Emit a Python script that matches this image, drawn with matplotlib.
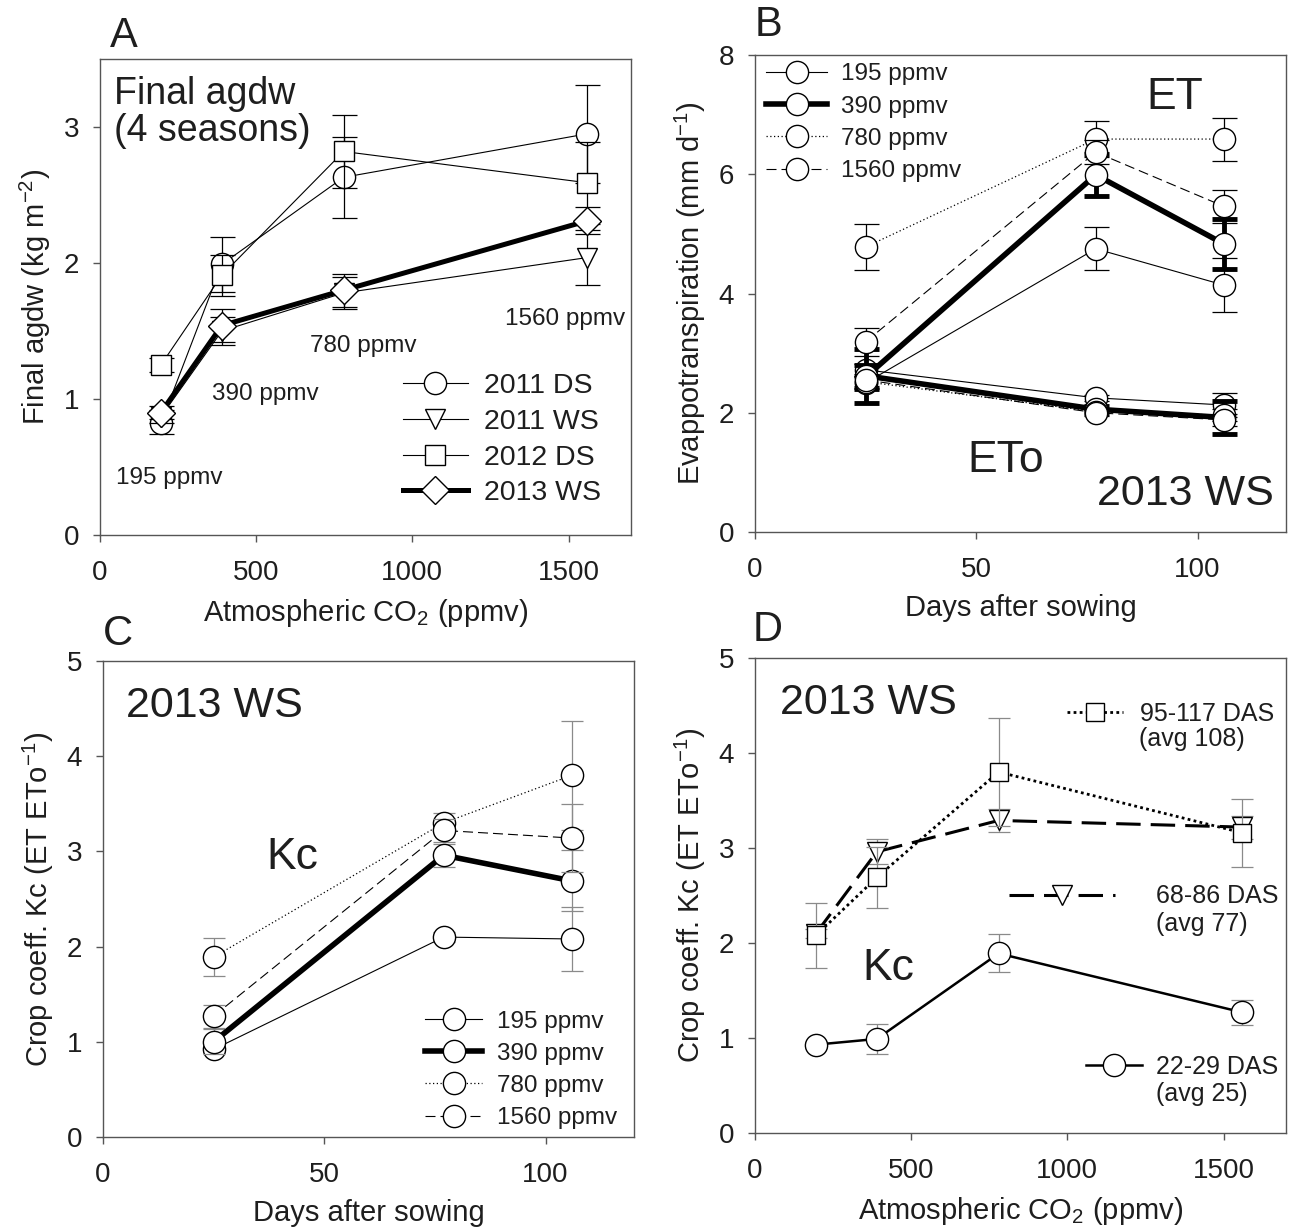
import matplotlib
matplotlib.use("Agg")
import matplotlib.pyplot as plt
from matplotlib.legend import Legend

plt.rcParams['font.family'] = ['Liberation Sans', 'DejaVu Sans']
plt.rcParams['mathtext.fontset'] = 'custom'
plt.rcParams['mathtext.rm'] = 'Liberation Sans'
plt.rcParams['mathtext.it'] = 'Liberation Sans:italic'
plt.rcParams['mathtext.bf'] = 'Liberation Sans:bold'

TXT = '#1e1e1e'
SPINE = '#555555'

# ---------------- data ----------------
co2 = [195, 390, 780, 1560]
das = [25, 77, 106]

# Panel A: final above-ground dry weight (kg m-2)
agdw_2011ds = [0.82, 1.99, 2.63, 2.95]
agdw_2011ds_err = [0.08, 0.20, 0.30, 0.36]
agdw_2011ws = [0.87, 1.50, 1.78, 2.04]
agdw_2011ws_err = [0.05, 0.10, 0.12, 0.20]
agdw_2012ds = [1.25, 1.91, 2.82, 2.59]
agdw_2012ds_err = [0.05, 0.15, 0.27, 0.30]
agdw_2013ws = [0.90, 1.54, 1.80, 2.31]
agdw_2013ws_err = [0.05, 0.12, 0.12, 0.10]

# Panel B: evapotranspiration (mm d-1)
et_195 = [2.50, 4.75, 4.14]
et_195_err = [0.10, 0.36, 0.45]
et_390 = [2.60, 5.99, 4.83]
et_390_err = [0.20, 0.35, 0.42]
et_780 = [4.78, 6.59, 6.59]
et_780_err = [0.38, 0.30, 0.36]
et_1560 = [3.19, 6.37, 5.46]
et_1560_err = [0.23, 0.20, 0.27]

eto_195 = [2.72, 2.25, 2.13]
eto_195_err = [0.10, 0.05, 0.20]
eto_390 = [2.62, 2.06, 1.92]
eto_390_err = [0.45, 0.05, 0.27]
eto_780 = [2.52, 2.02, 1.96]
eto_780_err = [0.10, 0.05, 0.10]
eto_1560 = [2.55, 2.00, 1.88]
eto_1560_err = [0.10, 0.05, 0.10]

# Panel C: crop coefficient by day
kc_195 = [0.92, 2.10, 2.08]
kc_195_err = [0.03, 0.05, 0.34]
kc_390 = [1.00, 2.96, 2.69]
kc_390_err = [0.13, 0.12, 0.32]
kc_780 = [1.89, 3.30, 3.80]
kc_780_err = [0.20, 0.10, 0.57]
kc_1560 = [1.27, 3.22, 3.14]
kc_1560_err = [0.12, 0.12, 0.36]

# Panel D: crop coefficient by CO2
kc_das25 = [0.93, 0.99, 1.89, 1.27]
kc_das25_err = [0.03, 0.16, 0.20, 0.13]
kc_das77 = [2.10, 2.96, 3.29, 3.22]
kc_das77_err = [0.05, 0.13, 0.12, 0.12]
kc_das108 = [2.08, 2.69, 3.80, 3.16]
kc_das108_err = [0.34, 0.32, 0.57, 0.36]

conc_labels = ['195 ppmv', '390 ppmv', '780 ppmv', '1560 ppmv']
season_labels = ['2011 DS', '2011 WS', '2012 DS', '2013 WS']

# ---------------- figure ----------------
W, H = 1290, 1230
fig = plt.figure(figsize=(W / 100, H / 100), dpi=100)


def axes_px(l, t, r, b):
    return fig.add_axes([l / W, 1 - b / H, (r - l) / W, (b - t) / H])


axA = axes_px(100, 59, 631, 535)
axB = axes_px(755, 55, 1286, 532)
axC = axes_px(103, 661, 634, 1137)
axD = axes_px(755, 658, 1286, 1133)

for ax in (axA, axB, axC, axD):
    for s in ax.spines.values():
        s.set_color(SPINE)
        s.set_linewidth(1.0)
    ax.tick_params(direction='out', length=5, width=1, color=SPINE,
                   labelcolor=TXT, labelsize=20, pad=10)
    ax.tick_params(axis='x', pad=13)


def series(ax, x, y, e, ls, lw, marker, ms, ecol='k', elw=0.9, cap=9, z=3, label=None):
    ax.errorbar(x, y, yerr=e, fmt='none', ecolor=ecol, elinewidth=elw,
                capsize=cap, capthick=elw, zorder=z)
    ln, = ax.plot(x, y, linestyle=ls, lw=lw, color='k', marker=marker, ms=ms,
                  mfc='white', mec='k', mew=1.0, zorder=z + 0.5, label=label)
    return ln

# ---------------- Panel A ----------------
hA = []
hA.append(series(axA, co2, agdw_2011ds, agdw_2011ds_err, '-', 0.8, 'o', 16, label=season_labels[0], z=3))
hA.append(series(axA, co2, agdw_2011ws, agdw_2011ws_err, '-', 0.8, 'v', 15, label=season_labels[1], z=4))
hA.append(series(axA, co2, agdw_2012ds, agdw_2012ds_err, '-', 0.8, 's', 14, label=season_labels[2], z=5))
hA.append(series(axA, co2, agdw_2013ws, agdw_2013ws_err, '-', 3.6, 'D', 14, label=season_labels[3], z=6))
axA.set_xlim(0, 1700)
axA.set_ylim(0, 3.5)
axA.set_xticks([0, 500, 1000, 1500])
axA.set_yticks([0, 1, 2, 3])
axA.set_xlabel('Atmospheric CO$_2$ (ppmv)', fontsize=21, color=TXT, labelpad=8)
axA.set_ylabel('Final agdw (kg m$^{-2}$)', fontsize=21, color=TXT, labelpad=8)
axA.text(46, 3.105, 'Final agdw\n(4 seasons)', fontsize=27, color=TXT,
         ha='left', va='center', linespacing=1.05)
for xx, yy, t in [(52, 0.42, '195 ppmv'), (359, 1.04, '390 ppmv'),
                  (672, 1.39, '780 ppmv'), (1298, 1.59, '1560 ppmv')]:
    axA.text(xx, yy, t, fontsize=17.5, color=TXT, ha='left', va='center')
axA.legend(handles=hA, loc='center left', bbox_to_anchor=(0.57, 0.2),
           frameon=False, borderpad=0, borderaxespad=0, fontsize=20.5,
           handlelength=2.3, handletextpad=0.55, labelspacing=0.34,
           labelcolor=TXT)

# ---------------- Panel B ----------------
hB = []
hB.append(series(axB, das, et_195, et_195_err, '-', 0.8, 'o', 16, label=conc_labels[0], z=3))
hB.append(series(axB, das, et_390, et_390_err, '-', 4.0, 'o', 16, elw=3.5, label=conc_labels[1], z=4))
hB.append(series(axB, das, et_780, et_780_err, (0, (1, 2)), 0.9, 'o', 16, label=conc_labels[2], z=5))
hB.append(series(axB, das, et_1560, et_1560_err, (0, (9, 4.5)), 0.8, 'o', 16, label=conc_labels[3], z=6))
series(axB, das, eto_195, eto_195_err, '-', 0.8, 'o', 16, z=3)
series(axB, das, eto_390, eto_390_err, '-', 4.0, 'o', 16, elw=3.5, z=4)
series(axB, das, eto_780, eto_780_err, (0, (1, 2)), 0.9, 'o', 16, z=5)
series(axB, das, eto_1560, eto_1560_err, (0, (9, 4.5)), 0.8, 'o', 16, z=6)
axB.set_xlim(0, 120)
axB.set_ylim(0, 8)
axB.set_xticks([0, 50, 100])
axB.set_yticks([0, 2, 4, 6, 8])
axB.set_xlabel('Days after sowing', fontsize=21, color=TXT, labelpad=8)
axB.set_ylabel('Evappotranspiration (mm d$^{-1}$)', fontsize=21, color=TXT, labelpad=8)
axB.text(88.4, 7.28, 'ET', fontsize=32, color=TXT, ha='left', va='center')
axB.text(48.1, 1.2, 'ETo', fontsize=32, color=TXT, ha='left', va='center')
axB.text(117.2, 0.63, '2013 WS', fontsize=31, color=TXT, ha='right', va='center')
axB.legend(handles=hB, loc='center left', bbox_to_anchor=(0.021, 0.858),
           frameon=False, borderpad=0, borderaxespad=0, fontsize=17.5,
           handlelength=2.5, handletextpad=0.6, labelspacing=0.42,
           labelcolor=TXT)

# ---------------- Panel C ----------------
GREY = '#8a8a8a'
hC = []
hC.append(series(axC, das, kc_195, kc_195_err, '-', 0.8, 'o', 16, ecol=GREY, elw=0.9, cap=8, label=conc_labels[0], z=3))
hC.append(series(axC, das, kc_390, kc_390_err, '-', 4.0, 'o', 16, ecol=GREY, elw=0.9, cap=8, label=conc_labels[1], z=4))
hC.append(series(axC, das, kc_780, kc_780_err, (0, (1, 2)), 0.9, 'o', 16, ecol=GREY, elw=0.9, cap=8, label=conc_labels[2], z=5))
hC.append(series(axC, das, kc_1560, kc_1560_err, (0, (9, 4.5)), 0.8, 'o', 16, ecol=GREY, elw=0.9, cap=8, label=conc_labels[3], z=6))
axC.set_xlim(0, 120)
axC.set_ylim(0, 5)
axC.set_xticks([0, 50, 100])
axC.set_yticks([0, 1, 2, 3, 4, 5])
axC.set_xlabel('Days after sowing', fontsize=21, color=TXT, labelpad=8)
axC.set_ylabel('Crop coeff. Kc (ET ETo$^{-1}$)', fontsize=21, color=TXT, labelpad=8)
axC.text(5.1, 4.53, '2013 WS', fontsize=31, color=TXT, ha='left', va='center')
axC.text(36.9, 2.94, 'Kc', fontsize=32, color=TXT, ha='left', va='center')
axC.legend(handles=hC, loc='center left', bbox_to_anchor=(0.607, 0.141),
           frameon=False, borderpad=0, borderaxespad=0, fontsize=17.5,
           handlelength=2.35, handletextpad=0.6, labelspacing=0.42,
           labelcolor=TXT)

# ---------------- Panel D ----------------
l77 = series(axD, co2, kc_das77, kc_das77_err, (0, (8, 3.3)), 2.2, 'v', 15, ecol=GREY, elw=0.9, cap=8, z=3)
l108 = series(axD, co2, kc_das108, kc_das108_err, (0, (1, 1.2)), 2.0, 's', 13.5, ecol=GREY, elw=0.9, cap=8, z=4)
l25 = series(axD, co2, kc_das25, kc_das25_err, '-', 1.8, 'o', 16, ecol=GREY, elw=0.9, cap=8, z=5)
axD.set_xlim(0, 1700)
axD.set_ylim(0, 5)
axD.set_xticks([0, 500, 1000, 1500])
axD.set_yticks([0, 1, 2, 3, 4, 5])
axD.set_xlabel('Atmospheric CO$_2$ (ppmv)', fontsize=21, color=TXT, labelpad=8)
axD.set_ylabel('Crop coeff. Kc (ET ETo$^{-1}$)', fontsize=21, color=TXT, labelpad=8)
axD.text(79, 4.53, '2013 WS', fontsize=31, color=TXT, ha='left', va='center')
axD.text(344, 1.73, 'Kc', fontsize=32, color=TXT, ha='left', va='center')

for ln, lab, sub, anchor, hl, htp, sub_xy in [
        (l108, '95-117 DAS', '(avg 108)', (0.588, 0.882), 2.24, 0.66, (0.724, 0.829)),
        (l77, '68-86 DAS', '(avg 77)', (0.479, 0.498), 4.23, 1.64, (0.755, 0.441)),
        (l25, '22-29 DAS', '(avg 25)', (0.623, 0.139), 2.23, 0.57, (0.755, 0.082))]:
    lg = Legend(axD, [ln], [lab], loc='center left', bbox_to_anchor=anchor,
                frameon=False, borderpad=0, borderaxespad=0, fontsize=18,
                handlelength=hl, handletextpad=htp, labelcolor=TXT)
    axD.add_artist(lg)
    axD.text(sub_xy[0], sub_xy[1], sub, transform=axD.transAxes, fontsize=18,
             color=TXT, ha='left', va='center')

# panel letters
for x, y, t in [(110, 36, 'A'), (755, 25, 'B'), (103, 634, 'C'), (753, 630, 'D')]:
    fig.text(x / W, 1 - y / H, t, fontsize=30, color=TXT, ha='left', va='center')

fig.savefig('out.png', dpi=100)
